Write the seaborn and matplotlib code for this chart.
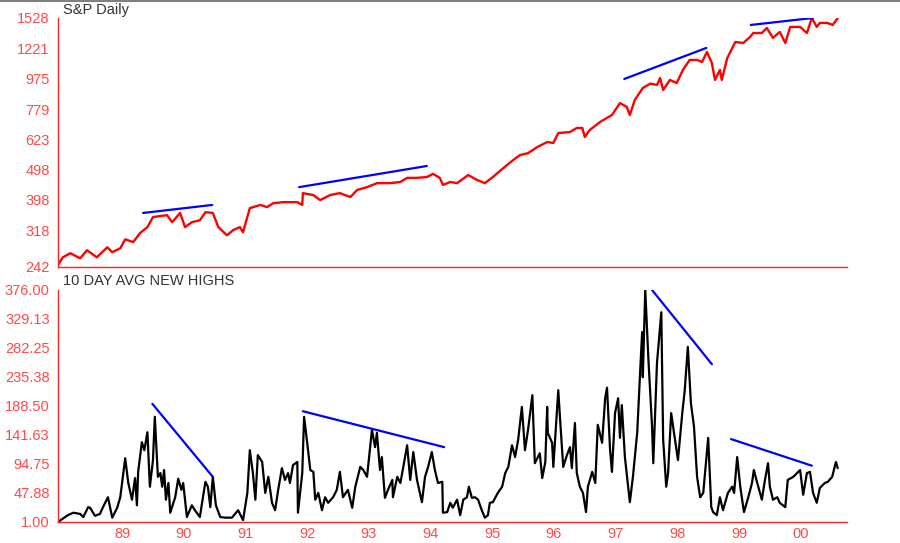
import seaborn as sns
import matplotlib.pyplot as plt
from matplotlib.lines import Line2D
import pandas as pd

# S&P daily close (decimal year, index level)
sp_year = [1987.96, 1988.04, 1988.16, 1988.32, 1988.43, 1988.59, 1988.76, 1988.84, 1988.97,
           1989.05, 1989.18, 1989.29, 1989.41, 1989.50, 1989.62, 1989.73, 1989.81, 1989.94,
           1990.02, 1990.13, 1990.26, 1990.35, 1990.47, 1990.56, 1990.70, 1990.80, 1990.91,
           1990.96, 1991.07, 1991.24, 1991.35, 1991.45, 1991.61, 1991.84, 1991.92, 1991.93,
           1992.10, 1992.21, 1992.37, 1992.53, 1992.70, 1992.81, 1992.97, 1993.13, 1993.34,
           1993.51, 1993.62, 1993.78, 1993.94, 1994.04, 1994.15, 1994.20, 1994.32, 1994.43,
           1994.61, 1994.75, 1994.88, 1995.01, 1995.24, 1995.34, 1995.45, 1995.58, 1995.73,
           1995.89, 1995.99, 1996.07, 1996.26, 1996.37, 1996.46, 1996.50, 1996.58, 1996.75,
           1996.80, 1996.94, 1997.07, 1997.18, 1997.23, 1997.31, 1997.44, 1997.56, 1997.67,
           1997.72, 1997.77, 1997.88, 1997.99, 1998.09, 1998.20, 1998.32, 1998.40, 1998.48,
           1998.56, 1998.61, 1998.69, 1998.72, 1998.81, 1998.94, 1999.07, 1999.18, 1999.23,
           1999.37, 1999.45, 1999.55, 1999.66, 1999.75, 1999.83, 1999.99, 2000.10, 2000.18,
           2000.26, 2000.31, 2000.43, 2000.52, 2000.60]
sp_close = [246, 260, 268, 258, 274, 260, 280, 270, 278,
            297, 291, 311, 325, 350, 353, 355, 337, 361,
            325, 337, 342, 363, 361, 325, 306, 318, 325,
            313, 374, 383, 377, 388, 391, 391, 383, 418,
            412, 397, 412, 418, 406, 428, 437, 450, 450,
            454, 468, 468, 471, 482, 468, 444, 454, 450,
            478, 461, 450, 471, 515, 534, 554, 562, 588,
            610, 606, 652, 657, 677, 677, 633, 667, 708,
            718, 745, 814, 791, 745, 833, 910, 940, 931,
            980, 897, 966, 944, 1040, 1120, 1120, 1103, 1188,
            1095, 966, 1040, 966, 1137, 1279, 1270, 1328, 1367,
            1367, 1419, 1318, 1378, 1270, 1430, 1430, 1367, 1528,
            1430, 1473, 1473, 1451, 1528]

# 10 day average of new highs
nh_year = [1987.96, 1988.12, 1988.21, 1988.32, 1988.37, 1988.45, 1988.48, 1988.56, 1988.64,
           1988.69, 1988.77, 1988.84, 1988.92, 1988.97, 1989.05, 1989.10, 1989.16, 1989.21,
           1989.24, 1989.26, 1989.32, 1989.36, 1989.41, 1989.45, 1989.50, 1989.53, 1989.58,
           1989.62, 1989.65, 1989.68, 1989.71, 1989.75, 1989.78, 1989.86, 1989.91, 1989.96,
           1989.99, 1990.05, 1990.13, 1990.18, 1990.26, 1990.35, 1990.39, 1990.43, 1990.47,
           1990.52, 1990.59, 1990.67, 1990.78, 1990.88, 1990.96, 1991.03, 1991.07, 1991.12,
           1991.16, 1991.20, 1991.27, 1991.32, 1991.37, 1991.43, 1991.48, 1991.53, 1991.59,
           1991.64, 1991.69, 1991.72, 1991.77, 1991.84, 1991.85, 1991.92, 1991.95, 1992.00,
           1992.05, 1992.10, 1992.13, 1992.18, 1992.24, 1992.29, 1992.34, 1992.42, 1992.48,
           1992.53, 1992.58, 1992.66, 1992.73, 1992.78, 1992.86, 1992.91, 1992.97, 1993.05,
           1993.10, 1993.13, 1993.18, 1993.21, 1993.26, 1993.31, 1993.38, 1993.39, 1993.46,
           1993.51, 1993.54, 1993.62, 1993.67, 1993.72, 1993.78, 1993.86, 1993.91, 1993.96,
           1994.02, 1994.07, 1994.12, 1994.19, 1994.20, 1994.27, 1994.32, 1994.36, 1994.43,
           1994.48, 1994.53, 1994.59, 1994.62, 1994.67, 1994.72, 1994.77, 1994.83, 1994.88,
           1994.93, 1994.96, 1995.01, 1995.09, 1995.16, 1995.21, 1995.26, 1995.32, 1995.37,
           1995.42, 1995.48, 1995.53, 1995.58, 1995.65, 1995.69, 1995.77, 1995.81, 1995.86,
           1995.89, 1995.90, 1995.97, 1995.99, 1996.07, 1996.10, 1996.15, 1996.21, 1996.26,
           1996.29, 1996.34, 1996.37, 1996.42, 1996.47, 1996.52, 1996.55, 1996.62, 1996.67,
           1996.71, 1996.78, 1996.83, 1996.86, 1996.91, 1996.94, 1996.99, 1997.04, 1997.07,
           1997.10, 1997.15, 1997.23, 1997.28, 1997.35, 1997.40, 1997.43, 1997.44, 1997.48,
           1997.53, 1997.59, 1997.61, 1997.67, 1997.74, 1997.77, 1997.82, 1997.85, 1997.90,
           1997.95, 1998.01, 1998.08, 1998.12, 1998.17, 1998.22, 1998.27, 1998.32, 1998.37,
           1998.42, 1998.50, 1998.55, 1998.58, 1998.64, 1998.69, 1998.74, 1998.82, 1998.89,
           1998.92, 1998.97, 1999.02, 1999.08, 1999.15, 1999.21, 1999.24, 1999.29, 1999.37,
           1999.42, 1999.47, 1999.50, 1999.55, 1999.62, 1999.66, 1999.75, 1999.79, 1999.88,
           1999.94, 1999.99, 2000.04, 2000.10, 2000.15, 2000.20, 2000.26, 2000.31, 2000.39,
           2000.44, 2000.51, 2000.57, 2000.60]
nh_avg = [1, 12, 16, 14, 9, 25, 24, 11, 14,
          25, 41, 8, 24, 41, 104, 64, 37, 72,
          28, 82, 130, 117, 146, 58, 101, 171, 74,
          80, 58, 85, 37, 64, 16, 41, 71, 53,
          64, 9, 28, 20, 9, 66, 58, 25, 74,
          28, 9, 8, 8, 20, 4, 48, 117, 80,
          37, 109, 98, 48, 74, 32, 20, 53, 88,
          69, 80, 64, 93, 98, 16, 80, 171, 129,
          85, 82, 37, 48, 20, 41, 32, 41, 53,
          82, 41, 53, 24, 58, 90, 85, 74, 150,
          122, 145, 85, 106, 40, 53, 69, 41, 74,
          64, 80, 125, 69, 114, 69, 33, 74, 90,
          114, 85, 64, 66, 16, 17, 32, 24, 37,
          12, 37, 41, 58, 40, 41, 37, 20, 8,
          12, 32, 33, 48, 58, 80, 90, 125, 106,
          134, 187, 117, 150, 206, 96, 112, 72, 98,
          187, 145, 129, 90, 214, 166, 90, 109, 122,
          88, 161, 80, 58, 48, 17, 58, 82, 64,
          158, 129, 201, 218, 117, 82, 177, 201, 137,
          190, 106, 33, 74, 146, 250, 308, 235, 376,
          266, 155, 96, 258, 340, 134, 58, 80, 177,
          142, 101, 177, 214, 284, 193, 155, 74, 41,
          48, 137, 25, 17, 12, 41, 20, 48, 58,
          48, 106, 58, 17, 41, 64, 85, 66, 37,
          69, 96, 58, 37, 41, 32, 25, 69, 74,
          80, 85, 45, 80, 82, 48, 32, 56, 64,
          66, 74, 98, 88]

# hand drawn divergence lines (start year, end year, start value, end value)
sp_trend_x = [(1989.34, 1990.46), (1991.87, 1993.94), (1997.14, 1998.47), (1999.19, 2000.20)]
sp_trend_y = [(361, 383), (437, 511), (973, 1224), (1451, 1528)]
nh_trend_x = [(1989.49, 1990.47), (1991.93, 1994.22), (1997.59, 1998.56), (1998.87, 2000.18)]
nh_trend_y = [(192, 74), (180, 122), (376, 256), (135, 92)]

sp_ticks = [242, 318, 398, 498, 623, 779, 975, 1221, 1528]
nh_ticks = [1.00, 47.88, 94.75, 141.63, 188.50, 235.38, 282.25, 329.13, 376.00]
year_ticks = list(range(1989, 2001))
year_labels = ['89', '90', '91', '92', '93', '94', '95', '96', '97', '98', '99', '00']

sns.set_style("white")
plt.rcParams['font.family'] = ['Liberation Sans', 'DejaVu Sans']

RED = '#ff2020'
TICKRED = '#ff4a4a'

fig = plt.figure(figsize=(9, 5.43), dpi=100)
ax1 = fig.add_axes([0.0644, 0.5083, 0.8767, 0.4586])
ax2 = fig.add_axes([0.0644, 0.0387, 0.8767, 0.4273])

df_sp = pd.DataFrame({'year': sp_year, 'close': sp_close})
df_nh = pd.DataFrame({'year': nh_year, 'avg': nh_avg})

sns.lineplot(data=df_sp, x='year', y='close', ax=ax1, color='#ff0000', lw=1.7,
             estimator=None, sort=False)
sns.lineplot(data=df_nh, x='year', y='avg', ax=ax2, color='black', lw=1.6,
             estimator=None, sort=False)

for xs, ys in zip(sp_trend_x, sp_trend_y):
    sns.lineplot(x=list(xs), y=list(ys), ax=ax1, color='#0000ff', lw=1.6, estimator=None)
for xs, ys in zip(nh_trend_x, nh_trend_y):
    sns.lineplot(x=list(xs), y=list(ys), ax=ax2, color='#0000ff', lw=1.6, estimator=None)

ax1.set_yscale('log')
ax1.set_ylim(242, 1528)
ax1.set_yticks(sp_ticks)
ax1.set_yticklabels([str(t) for t in sp_ticks])
ax1.minorticks_off()
ax1.set_xticks([])

ax2.set_ylim(1, 376)
ax2.set_yticks(nh_ticks)
ax2.set_yticklabels(['%.2f' % t for t in nh_ticks])
ax2.set_xticks(year_ticks)
ax2.set_xticklabels(year_labels)

for ax in (ax1, ax2):
    ax.set_xlim(1987.96, 2000.75)
    ax.set_xlabel('')
    ax.set_ylabel('')
    ax.patch.set_alpha(0)
    for s in ('top', 'right'):
        ax.spines[s].set_visible(False)
    for s in ('left', 'bottom'):
        ax.spines[s].set_color(RED)
        ax.spines[s].set_linewidth(1.0)
    ax.tick_params(axis='both', which='both', colors=RED, labelcolor=TICKRED,
                   length=4, width=1, direction='out', labelsize=10.5, pad=2)

ax2.tick_params(axis='x', length=3, pad=0.5, labelsize=10.5)

ax1.text(0.007, 1.005, 'S&P Daily', transform=ax1.transAxes, fontsize=10.5,
         color='#333333', va='bottom', ha='left')
ax2.text(0.007, 1.008, '10 DAY AVG NEW HIGHS', transform=ax2.transAxes, fontsize=10.5,
         color='#333333', va='bottom', ha='left')

# thin frame line along the top of the picture
fig.add_artist(Line2D([0, 1], [0.998, 0.998], transform=fig.transFigure,
                      color='#808080', lw=1.5))

fig.savefig('out.png', dpi=100, facecolor='white')
